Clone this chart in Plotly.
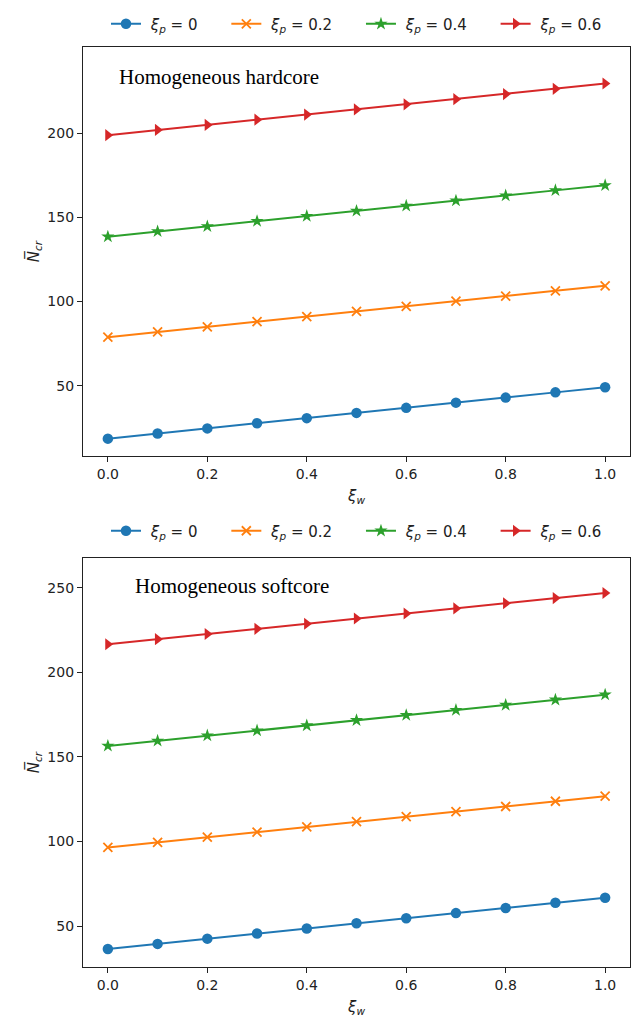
import plotly.graph_objects as go

# shared horizontal axis
xi_w = [0.0, 0.1, 0.2, 0.3, 0.4, 0.5, 0.6, 0.7, 0.8, 0.9, 1.0]
xi_p_labels = ["0", "0.2", "0.4", "0.6"]

# homogeneous hardcore
hard_p00 = [18.5, 21.6, 24.6, 27.7, 30.7, 33.8, 36.8, 39.9, 42.9, 46.0, 49.0]
hard_p02 = [78.8, 81.9, 84.9, 88.0, 91.0, 94.1, 97.1, 100.2, 103.2, 106.3, 109.3]
hard_p04 = [138.5, 141.6, 144.6, 147.7, 150.7, 153.8, 156.8, 159.9, 162.9, 166.0, 169.0]
hard_p06 = [198.8, 201.9, 204.9, 208.0, 211.0, 214.1, 217.1, 220.2, 223.2, 226.3, 229.5]

# homogeneous softcore
soft_p00 = [36.5, 39.5, 42.6, 45.6, 48.6, 51.7, 54.7, 57.7, 60.7, 63.8, 66.8]
soft_p02 = [96.5, 99.5, 102.6, 105.6, 108.6, 111.7, 114.7, 117.7, 120.7, 123.8, 126.8]
soft_p04 = [156.5, 159.5, 162.6, 165.6, 168.6, 171.7, 174.7, 177.7, 180.7, 183.8, 186.8]
soft_p06 = [216.6, 219.6, 222.7, 225.7, 228.7, 231.8, 234.8, 237.8, 240.8, 243.9, 246.9]

colors = ["#1f77b4", "#ff7f0e", "#2ca02c", "#d62728"]
symbols = ["circle", "x-thin-open", "star", "triangle-right"]
msizes = [10.5, 9, 10, 10.5]

FONT = "DejaVu Sans"
NB = "\u00a0"
fig = go.Figure()

panels = [
    ("x", "y", "legend", [hard_p00, hard_p02, hard_p04, hard_p06]),
    ("x2", "y2", "legend2", [soft_p00, soft_p02, soft_p04, soft_p06]),
]
for xa, ya, leg, series in panels:
    for i, (lab, vals, c, s, ms) in enumerate(zip(xi_p_labels, series, colors, symbols, msizes)):
        pad_right = NB * 5 if i < len(xi_p_labels) - 1 else ""
        fig.add_trace(go.Scatter(
            x=xi_w, y=vals, xaxis=xa, yaxis=ya, legend=leg,
            mode="lines+markers",
            name=f"{NB}<i>ξ</i><sub><i>p</i></sub> = {lab}{pad_right}",
            line=dict(color=c, width=2),
            marker=dict(symbol=s, size=ms, color=c,
                        line=dict(color=c, width=1.8 if s.startswith("x") else 0)),
        ))

axis_common = dict(
    showline=True, mirror=True, linecolor="#222", linewidth=1.2,
    showgrid=False, zeroline=False, ticks="outside", ticklen=5,
    tickcolor="#222", tickwidth=1.2,
    tickfont=dict(family=FONT, size=14, color="#222"),
)

xt = dict(range=[-0.05, 1.05], tickvals=[0, 0.2, 0.4, 0.6, 0.8, 1.0],
          ticktext=["0.0", "0.2", "0.4", "0.6", "0.8", "1.0"],
          title=dict(text="<i>ξ</i><sub><i>w</i></sub>", standoff=9,
                     font=dict(family=FONT, size=15, color="#222")))


def ytitle():
    return dict(text="<i>N̅</i><sub><i>cr</i></sub>", standoff=4,
                font=dict(family=FONT, size=15, color="#222"))


legend_common = dict(orientation="h", x=0.5, xanchor="center", yanchor="middle",
                     font=dict(family=FONT, size=15, color="#222"),
                     bgcolor="rgba(0,0,0,0)")

fig.update_layout(
    width=632, height=1019,
    margin=dict(l=83, r=2, t=0, b=0),
    paper_bgcolor="white", plot_bgcolor="white",
    xaxis=dict(**axis_common, **xt, domain=[0, 1], anchor="y"),
    yaxis=dict(**axis_common, title=ytitle(), tickvals=[50, 100, 150, 200],
               range=[8.2, 251], domain=[0.5525, 0.9536], anchor="x"),
    xaxis2=dict(**axis_common, **xt, domain=[0, 1], anchor="y2"),
    yaxis2=dict(**axis_common, title=ytitle(), tickvals=[50, 100, 150, 200, 250],
                range=[26, 267.4], domain=[0.0513, 0.4521], anchor="x2"),
    legend=dict(**legend_common, y=0.9764),
    legend2=dict(**legend_common, y=0.4789),
    annotations=[
        dict(text="Homogeneous hardcore", xref="paper", yref="paper",
             x=0.062, y=0.9244, xanchor="left", yanchor="middle", showarrow=False,
             font=dict(family="Liberation Serif", size=21, color="black")),
        dict(text="Homogeneous softcore", xref="paper", yref="paper",
             x=0.0914, y=0.4245, xanchor="left", yanchor="middle", showarrow=False,
             font=dict(family="Liberation Serif", size=21, color="black")),
    ],
)

fig.write_html("out.html")
